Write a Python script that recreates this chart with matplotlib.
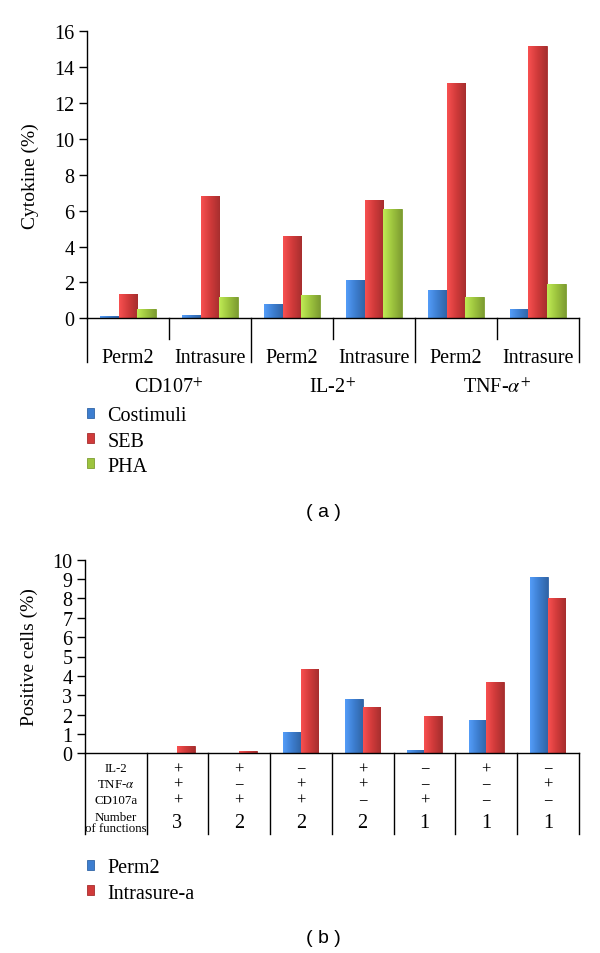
import numpy as np
import matplotlib
matplotlib.use("Agg")
import matplotlib.pyplot as plt
from matplotlib.colors import LinearSegmentedColormap, to_rgb
from matplotlib.patches import Patch

plt.rcParams['font.family'] = ['Liberation Serif', 'DejaVu Serif']
plt.rcParams['mathtext.fontset'] = 'stix'

# ---------------- Panel (a) data ----------------
cat_a = ["Perm2", "Intrasure", "Perm2", "Intrasure", "Perm2", "Intrasure"]
groups_a = ["CD107$^{+}$", "IL-2$^{+}$", "TNF-$\\alpha^{+}$"]
series_a = ["Costimuli", "SEB", "PHA"]
costimuli = [0.15, 0.20, 0.80, 2.12, 1.58, 0.52]
seb = [1.34, 6.80, 4.57, 6.58, 13.10, 15.19]
pha = [0.52, 1.21, 1.28, 6.08, 1.21, 1.91]
yticks_a = [0, 2, 4, 6, 8, 10, 12, 14, 16]

# ---------------- Panel (b) data ----------------
row_labels_b = ["IL-2", "TNF-$\\alpha$", "CD107a", "Number\nof functions"]
il2 = ["+", "+", "\u2212", "+", "\u2212", "+", "\u2212"]
tnf = ["+", "\u2212", "+", "+", "\u2212", "\u2212", "+"]
cd107 = ["+", "+", "+", "\u2212", "+", "\u2212", "\u2212"]
nfunc = ["3", "2", "2", "2", "1", "1", "1"]
series_b = ["Perm2", "Intrasure-a"]
perm2 = [0.0, 0.0, 1.10, 2.79, 0.17, 1.72, 9.09]
intrasure = [0.36, 0.12, 4.35, 2.38, 1.91, 3.70, 8.04]
yticks_b = [0, 1, 2, 3, 4, 5, 6, 7, 8, 9, 10]

BLUE = "#3d7ed0"
RED = "#d03a3a"
GREEN = "#9dc43e"


def shade(ax, bars, color):
    base = np.array(to_rgb(color))
    light = np.clip(base * 1.12 + 0.06, 0, 1)
    dark = base * 0.80
    cmap = LinearSegmentedColormap.from_list("g", [light, base, dark])
    grad = np.linspace(0, 1, 64).reshape(1, -1)
    for b in bars:
        x0, y0 = b.get_xy()
        w, h = b.get_width(), b.get_height()
        if h <= 0:
            continue
        im = ax.imshow(grad, cmap=cmap, extent=[x0, x0 + w, y0, y0 + h],
                       aspect="auto", zorder=2.1, interpolation="bilinear")
        im.set_clip_path(b)


fig = plt.figure(figsize=(6, 9.54), dpi=100)

# ================= Panel (a) =================
ax = fig.add_axes([87.2 / 600, 1 - 319.3 / 954, 491.5 / 600, 287.0 / 954])
x = np.arange(len(cat_a))
bw = 0.226
cols_a = [BLUE, RED, GREEN]
for i, (vals, col) in enumerate(zip([costimuli, seb, pha], cols_a)):
    bars = ax.bar(x + (i - 1) * bw, vals, bw, color=col,
                  edgecolor=tuple(np.array(to_rgb(col)) * 0.8), linewidth=0.6, zorder=2)
    shade(ax, bars, col)
ax.set_xlim(-0.5, len(cat_a) - 0.5)
ax.set_ylim(0, 16)
ax.set_yticks(yticks_a)
ax.set_xticks([])
for s in ["top", "right"]:
    ax.spines[s].set_visible(False)
for s in ["left", "bottom"]:
    ax.spines[s].set_linewidth(1.0)
ax.tick_params(axis="y", direction="out", length=6, width=1.0, labelsize=14.5, pad=3)
ax.set_ylabel("Cytokine (%)", fontsize=14)
ax.yaxis.set_label_coords(-0.099, 0.5)

trans = ax.get_xaxis_transform()
ah = 287.0
bounds = np.arange(len(cat_a) + 1) - 0.5
for k, bx in enumerate(bounds):
    depth = 43.7 if k % 2 == 0 else 20.7
    ax.plot([bx, bx], [0, -depth / ah], transform=trans, color="black",
            lw=1.0, clip_on=False)
for xi, lab in zip(x, cat_a):
    ax.text(xi, -39.0 / ah, lab, transform=trans, ha="center", va="center", fontsize=14.5)
for g, lab in enumerate(groups_a):
    ax.text(2 * g + 0.5, -69.0 / ah, lab, transform=trans, ha="center", va="center",
            fontsize=14.5)

handles_a = [Patch(facecolor=c, edgecolor=tuple(np.array(to_rgb(c)) * 0.8), linewidth=0.6)
             for c in cols_a]
fig.legend(handles_a, series_a, loc="upper left",
           bbox_to_anchor=(86.5 / 600, 1 - 407.5 / 954), bbox_transform=fig.transFigure,
           frameon=False, fontsize=14.5, handlelength=0.38, handleheight=0.38,
           handletextpad=0.65, labelspacing=0.30, borderpad=0, borderaxespad=0)

fig.text(323 / 600, 1 - 512.3 / 954, "( a )", family=["Liberation Sans", "DejaVu Sans"],
         fontsize=14, ha="center", va="center")

# ================= Panel (b) =================
bx_ = fig.add_axes([84.9 / 600, 1 - 754.3 / 954, 493.8 / 600, 193.6 / 954])
ncat = len(perm2) + 1
xb = np.arange(1, ncat)
bw2 = 0.283
for i, (vals, col) in enumerate(zip([perm2, intrasure], [BLUE, RED])):
    bars = bx_.bar(xb + (i - 0.5) * bw2, vals, bw2, color=col,
                   edgecolor=tuple(np.array(to_rgb(col)) * 0.8), linewidth=0.6, zorder=2)
    shade(bx_, bars, col)
bx_.set_xlim(-0.5, ncat - 0.5)
bx_.set_ylim(0, 10)
bx_.set_yticks(yticks_b)
bx_.set_xticks([])
for s in ["top", "right"]:
    bx_.spines[s].set_visible(False)
for s in ["left", "bottom"]:
    bx_.spines[s].set_linewidth(1.0)
bx_.tick_params(axis="y", direction="out", length=6, width=1.0, labelsize=14.5, pad=3)
bx_.set_ylabel("Positive cells (%)", fontsize=14)
bx_.yaxis.set_label_coords(-0.094, 0.5)

tb = bx_.get_xaxis_transform()
bh = 193.6
for bxx in np.arange(ncat + 1) - 0.5:
    bx_.plot([bxx, bxx], [0, -80.7 / bh], transform=tb, color="black", lw=1.0, clip_on=False)

row_y = [-15.0 / bh, -30.7 / bh, -46.7 / bh, -69.0 / bh]
for ry, lab in zip(row_y, row_labels_b):
    bx_.text(0, ry, lab, transform=tb, ha="center", va="center", fontsize=9.3,
             linespacing=0.9)
for ry, vals, fs in zip(row_y, [il2, tnf, cd107, nfunc], [12, 12, 12, 14.5]):
    for xi, v in zip(xb, vals):
        bx_.text(xi, ry, v, transform=tb, ha="center", va="center", fontsize=fs)

handles_b = [Patch(facecolor=c, edgecolor=tuple(np.array(to_rgb(c)) * 0.8), linewidth=0.6)
             for c in [BLUE, RED]]
fig.legend(handles_b, series_b, loc="upper left",
           bbox_to_anchor=(86.5 / 600, 1 - 859.5 / 954), bbox_transform=fig.transFigure,
           frameon=False, fontsize=14.5, handlelength=0.38, handleheight=0.38,
           handletextpad=0.65, labelspacing=0.30, borderpad=0, borderaxespad=0)

fig.text(323 / 600, 1 - 938.3 / 954, "( b )", family=["Liberation Sans", "DejaVu Sans"],
         fontsize=14, ha="center", va="center")

fig.savefig("out.png", dpi=100)
